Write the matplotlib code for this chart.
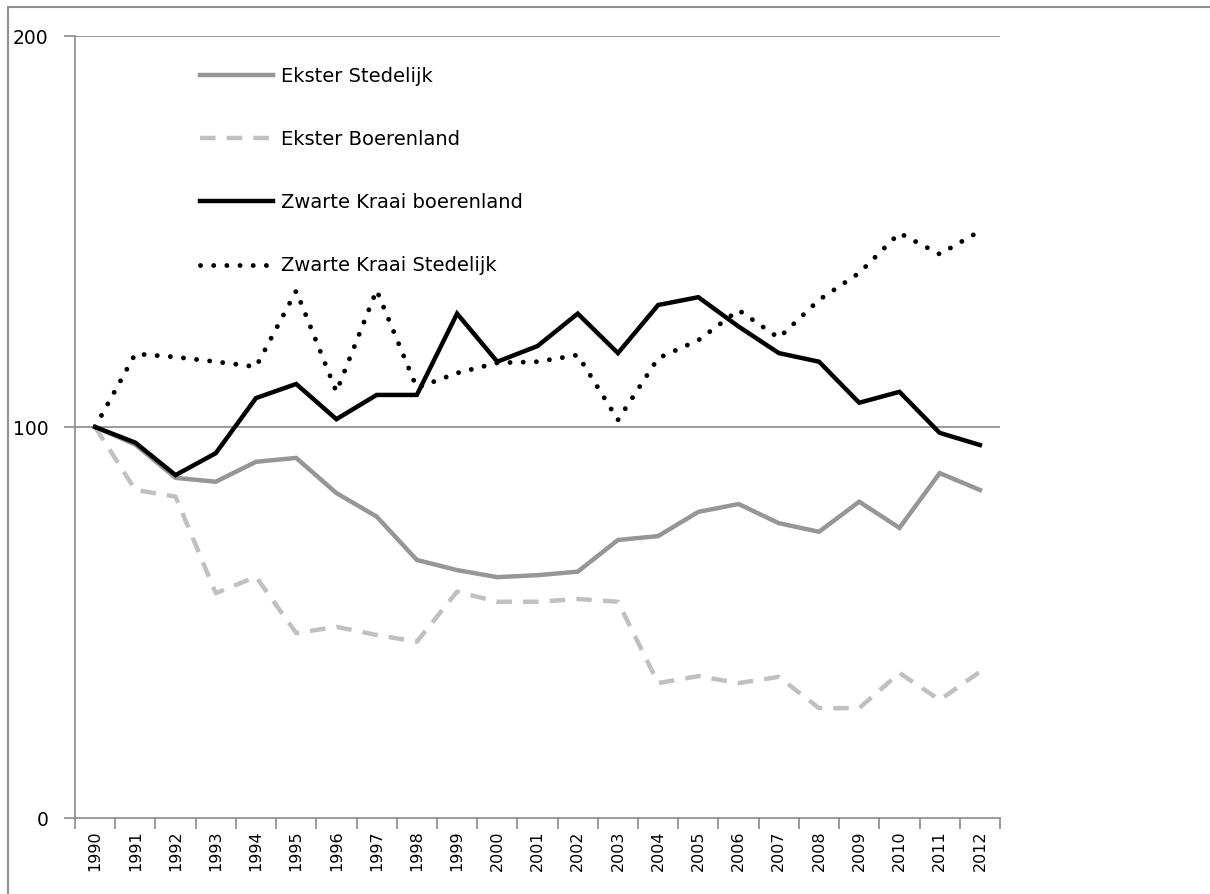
import matplotlib
matplotlib.use("Agg")
import matplotlib.pyplot as plt
from matplotlib.lines import Line2D
import numpy as np

years = [str(y) for y in range(1990, 2013)]

ekster_stedelijk = [100, 95.5, 87.0, 86.0, 91.1, 92.1, 83.1, 77.1, 66.0, 63.4, 61.6, 62.1,
                    63.0, 71.1, 72.1, 78.3, 80.3, 75.4, 73.2, 80.9, 74.2, 88.2, 83.9]
ekster_boerenland = [100, 83.9, 82.2, 57.5, 61.7, 47.3, 48.9, 46.8, 45.1, 57.9, 55.3, 55.3,
                     56.0, 55.3, 34.5, 36.3, 34.5, 36.1, 28.1, 28.1, 37.1, 30.2, 37.4]
kraai_boerenland = [100, 96.0, 87.7, 93.3, 107.4, 111.0, 102.0, 108.2, 108.2, 129.0, 116.7, 120.7,
                    129.0, 118.9, 131.2, 133.2, 125.7, 118.9, 116.7, 106.2, 109.0, 98.5, 95.4]
kraai_stedelijk = [100, 118.7, 117.9, 116.7, 115.4, 134.8, 109.0, 135.0, 110.0, 113.8, 116.4, 116.7,
                   118.4, 101.8, 117.6, 122.2, 129.9, 122.8, 132.5, 139.4, 149.6, 144.2, 150.1]

W, H = 1210, 894
fig = plt.figure(figsize=(W / 100, H / 100), dpi=100)
ax = fig.add_axes([75 / W, 1 - 818 / H, 925 / W, 782 / H])

axis_grey = "#8a8a8a"
x = np.arange(len(years))

ax.plot(x, ekster_stedelijk, color="#969696", lw=3.2, label="Ekster Stedelijk",
        solid_joinstyle="miter")
ax.plot(x, ekster_boerenland, color="#c0c0c0", lw=3.2, dashes=(3.5, 2.5),
        label="Ekster Boerenland")
ax.plot(x, kraai_boerenland, color="black", lw=3.2, label="Zwarte Kraai boerenland",
        solid_joinstyle="miter")
ax.plot(x, kraai_stedelijk, color="black", lw=3.5, dashes=(0.01, 2.7),
        dash_capstyle="round", label="Zwarte Kraai Stedelijk")

ax.set_xlim(-0.5, len(years) - 0.5)
ax.set_ylim(0, 200)
ax.set_yticks([0, 100, 200])
ax.set_yticklabels(["0", "100", "200"])
ax.set_xticks(x)
ax.set_xticklabels(years, rotation=90, fontsize=11.5)
ax.set_xticks(np.arange(-0.5, len(years)), minor=True)
ax.tick_params(axis="x", which="major", length=0, pad=9)
ax.tick_params(axis="x", which="minor", length=8, color=axis_grey, width=1.2)
ax.tick_params(axis="y", length=8, color=axis_grey, width=1.2, labelsize=13.5, pad=11)

for y in (100, 200):
    ax.axhline(y, color=axis_grey, lw=1.2, zorder=0.5)

for s in ("top", "right"):
    ax.spines[s].set_visible(False)
for s in ("left", "bottom"):
    ax.spines[s].set_color(axis_grey)
    ax.spines[s].set_linewidth(1.2)

leg = ax.legend(loc="upper left", bbox_to_anchor=(200 / W, 1 - 67 / H),
                bbox_transform=fig.transFigure, frameon=False, fontsize=14,
                handlelength=3.75, handletextpad=0.4, labelspacing=2.27,
                borderpad=0, borderaxespad=0)

# outer frame like the original screenshot
fig.add_artist(Line2D([8 / W, 1], [1 - 7 / H, 1 - 7 / H], color="#909090", lw=1.5,
                      transform=fig.transFigure))
fig.add_artist(Line2D([8 / W, 8 / W], [0, 1 - 7 / H], color="#909090", lw=1.5,
                      transform=fig.transFigure))

fig.savefig("out.png", dpi=100)
